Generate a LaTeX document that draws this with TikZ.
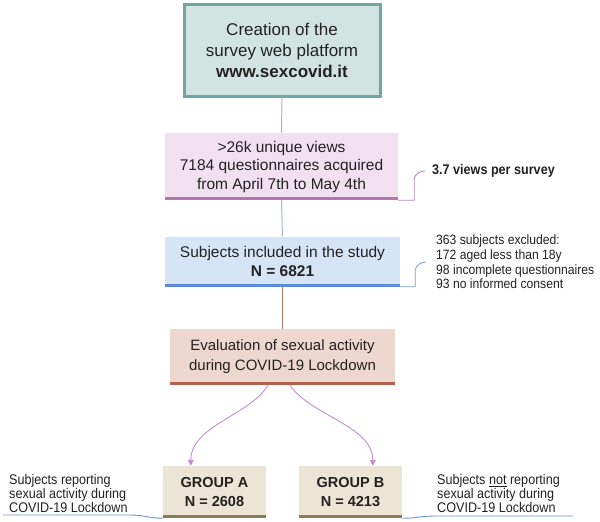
\documentclass[tikz,border=0pt]{standalone}
\usepackage{fontspec}
\setmainfont{Liberation Sans}
\newfontfamily\narrowfont{Liberation Sans}[FakeStretch=0.9]
\usetikzlibrary{calc,arrows.meta}
\definecolor{tealfill}{HTML}{D2E4E2}
\definecolor{tealline}{HTML}{6EA8A2}
\definecolor{pinkfill}{HTML}{F2E0F0}
\definecolor{pinkline}{HTML}{B277AF}
\definecolor{bluefill}{HTML}{D6E5F6}
\definecolor{blueline}{HTML}{5A8DD6}
\definecolor{salmfill}{HTML}{EDD7CE}
\definecolor{salmline}{HTML}{B5604E}
\definecolor{beigefill}{HTML}{ECE5D5}
\definecolor{beigeline}{HTML}{8C7B5A}
\definecolor{connA}{HTML}{C8A2C2}
\definecolor{connB}{HTML}{9DBBD8}
\definecolor{connC}{HTML}{A9826B}
\definecolor{curvec}{HTML}{C28ED0}
\definecolor{brackA}{HTML}{B98CB8}
\definecolor{brackB}{HTML}{7FA3D2}
\definecolor{baseln}{HTML}{6A98C8}
\definecolor{txt}{HTML}{222222}
\begin{document}
\begin{tikzpicture}[x=1pt,y=-1pt,
  box/.style={inner sep=0pt, align=center, text=txt},
  conn/.style={line width=1pt},
  brack/.style={line width=0.9pt},
  botline/.style={line width=3pt},
  note/.style={inner sep=0pt, align=left, text=txt, anchor=west},
  arrowc/.style={line width=0.9pt, draw=curvec, -{Triangle[length=6pt,width=6pt]}}]
\useasboundingbox (0,0) rectangle (600,522);
\fill[white] (0,0) rectangle (600,522);

% boxes
\node[box, fill=tealfill, draw=tealline, line width=3pt, minimum width=196pt, minimum height=92pt,
  font={\fontsize{17}{21}\selectfont}] (b1) at (282,50)
  {Creation of the\\survey web platform\\\textbf{www.sexcovid.it}};

\node[box, fill=pinkfill, minimum width=233pt, minimum height=67pt,
  font={\fontsize{15.5}{18.5}\selectfont}] (b2) at (281.5,166.5)
  {>26k unique views\\7184 questionnaires acquired\\from April 7th to May 4th};
\draw[botline, pinkline] ([yshift=1.5pt]b2.south west) -- ([yshift=1.5pt]b2.south east);

\node[box, fill=bluefill, minimum width=235pt, minimum height=50pt,
  font={\fontsize{15.5}{18.5}\selectfont}] (b3) at (282.5,261.5)
  {Subjects included in the study\\\textbf{N = 6821}};
\draw[botline, blueline] ([yshift=1.5pt]b3.south west) -- ([yshift=1.5pt]b3.south east);

\node[box, fill=salmfill, minimum width=225pt, minimum height=56pt,
  font={\fontsize{15}{20}\selectfont}] (b4) at (282.5,357)
  {Evaluation of sexual activity\\during COVID-19 Lockdown};
\draw[botline, salmline] ([yshift=1.5pt]b4.south west) -- ([yshift=1.5pt]b4.south east);

\node[box, fill=beigefill, minimum width=103pt, minimum height=52pt,
  font={\bfseries\fontsize{14.5}{19}\selectfont}] (gA) at (214.5,492)
  {GROUP A\\N = 2608};
\draw[botline, beigeline] ([yshift=1.5pt]gA.south west) -- ([yshift=1.5pt]gA.south east);

\node[box, fill=beigefill, minimum width=103pt, minimum height=52pt,
  font={\bfseries\fontsize{14.5}{19}\selectfont}] (gB) at (350.5,492)
  {GROUP B\\N = 4213};
\draw[botline, beigeline] ([yshift=1.5pt]gB.south west) -- ([yshift=1.5pt]gB.south east);

% side notes
\node[note, font={\narrowfont\bfseries\fontsize{14}{16}\selectfont}] (n1) at (432,171)
  {3.7 views per survey};
\node[note, font={\narrowfont\fontsize{13.5}{14.6}\selectfont}] (n2) at (436,262)
  {363 subjects excluded:\\172 aged less than 18y\\98 incomplete questionnaires\\93 no informed consent};
\node[note, font={\narrowfont\fontsize{14}{13.6}\selectfont}] (n3) at (9,493.5)
  {Subjects reporting\\sexual activity during\\COVID-19 Lockdown};
\node[note, font={\narrowfont\fontsize{14}{13.6}\selectfont}] (n4) at (437,493.5)
  {Subjects \underline{not} reporting\\sexual activity during\\COVID-19 Lockdown};

% vertical connectors
\draw[conn, connA] (b1.south) -- (b2.north);
\draw[conn, connB] (b2.south) -- (b3.north);
\draw[conn, connC] (b3.south) -- (b4.north);

% curved arrows
\coordinate (sA) at ($(b4.south)+(-14.5,0)$);
\coordinate (sB) at ($(b4.south)+(7.5,0)$);
\coordinate (tA) at ($(gA.north west)+(28,0)$);
\coordinate (tB) at ($(gB.north west)+(74,0)$);
\draw[arrowc] (sA) .. controls ($(sA)+(-18,30)$) and ($(tA)+(0,-40)$) .. (tA);
\draw[arrowc] (sB) .. controls ($(sB)+(20,30)$) and ($(tB)+(0,-40)$) .. (tB);

% brackets
\coordinate (k1) at ($(n1.west)+(-7,0)$);
\draw[brack, brackA] (b2.south east) -- ++(16,0) coordinate (k1a) -- ($(k1a)+(0,-20)$)
  .. controls ($(k1a)+(0,-27)$) and ($(k1)+(-4,0)$) .. (k1);
\coordinate (k2) at ($(n2.west)+(-10,0)$);
\draw[brack, brackB] (b3.south east) -- ++(15,0) coordinate (k2a) -- ($(k2a)+(0,-16)$)
  .. controls ($(k2a)+(0,-22)$) and ($(k2)+(-4,0)$) .. (k2);

% base lines
\coordinate (lA) at (3,515);
\draw[line width=0.9pt, baseln] (lA) -- (130,515) .. controls (145,515) and (150,518.5) .. (gA.south west);
\coordinate (lB) at (573,516);
\draw[line width=0.9pt, baseln] (gB.south east) .. controls (415,518.5) and (420,516) .. (435,516) -- (lB);
\end{tikzpicture}
\end{document}
